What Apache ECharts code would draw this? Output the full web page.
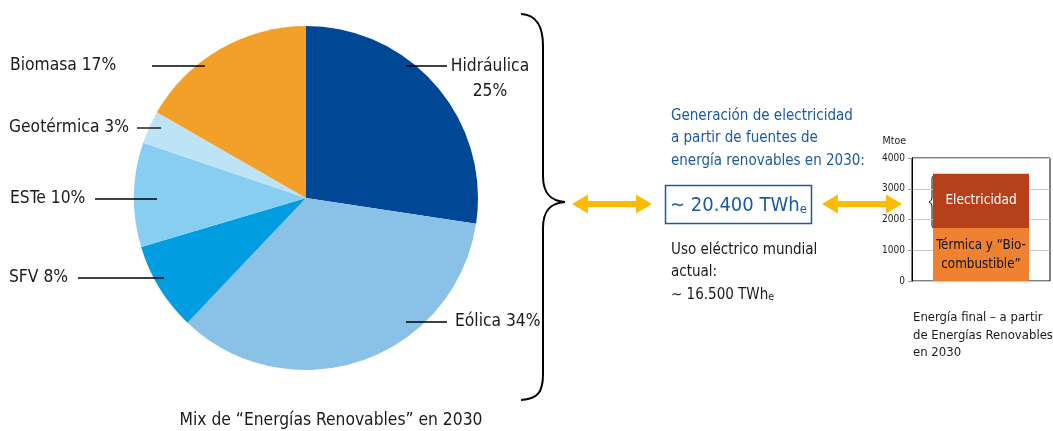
<!DOCTYPE html>
<html><head><meta charset="utf-8">
<script src="https://cdn.jsdelivr.net/npm/echarts@6/dist/echarts.min.js"></script>
<style>html,body{margin:0;padding:0;background:#fff}#c{width:1053px;height:431px}</style>
</head><body><div id="c"></div>
<script>
const FONT = "'Liberation Sans Narrow','Arial Narrow','DejaVu Sans Condensed',sans-serif";

// ---- Pie: renewable mix 2030 ----
const pieCategories = ['Hidráulica', 'Eólica', 'SFV', 'ESTe', 'Geotérmica', 'Biomasa'];
const pieShares = [27.4, 34.7, 8.3, 9.8, 3.1, 16.7];      // slice sizes as drawn
const pieLabelPercents = [25, 34, 8, 10, 3, 17];          // printed label values
const pieColors = ['#004896', '#89c2e6', '#009ee0', '#88cef0', '#bde3f7', '#f3a02b'];

// ---- Bar: final energy from renewables 2030 (Mtoe) ----
const barCategories = ['Energía final'];
const termicaValues = [1720];
const electricidadValues = [1770];
const yMin = 0, yMax = 4000, yStep = 1000;

const BLUE = '#1d5aa5';
const YEL = '#fbbb00';
const INK = '#1a1a1a';

const labelSpots = [
  {x: 490, y: 79, align: 'center', line: [[406, 66], [447, 66]]},
  {x: 455, y: 322, align: 'left', line: [[406, 322], [447, 322]]},
  {x: 9, y: 278, align: 'left', line: [[164, 278], [78, 278]]},
  {x: 10, y: 199, align: 'left', line: [[157, 199], [95, 199]]},
  {x: 9, y: 128, align: 'left', line: [[161, 128], [137, 128]]},
  {x: 10, y: 66, align: 'left', line: [[205, 66], [152, 66]]}
];

function dblArrow(x1, x2, y) {
  const h = 16, hh = 9.5, s = 3;
  return {type: 'polygon', shape: {points: [
    [x1, y], [x1 + h, y - hh], [x1 + h, y - s], [x2 - h, y - s], [x2 - h, y - hh], [x2, y],
    [x2 - h, y + hh], [x2 - h, y + s], [x1 + h, y + s], [x1 + h, y + hh]]},
    style: {fill: YEL}};
}
function txt(x, y, text, size, color, extra) {
  return {type: 'text', x: x, y: y,
    style: Object.assign({text: text, fontSize: size, fontFamily: FONT, fill: color,
      textAlign: 'left', textVerticalAlign: 'middle'}, extra || {})};
}
function bez(a, b, c1, c2, w) {
  return {type: 'bezierCurve', shape: {x1: a[0], y1: a[1], x2: b[0], y2: b[1], cpx1: c1[0], cpy1: c1[1], cpx2: c2[0], cpy2: c2[1]},
    style: {fill: null, stroke: '#000', lineWidth: w}};
}
function seg(a, b, w) {
  return {type: 'line', shape: {x1: a[0], y1: a[1], x2: b[0], y2: b[1]}, style: {stroke: '#000', lineWidth: w}};
}

const pieBase = {type: 'pie', center: [306, 198], radius: 172, startAngle: 90, clockwise: true, silent: true};

const chart = echarts.init(document.getElementById('c'), null, {renderer: 'canvas'});
chart.setOption({
  animation: false,
  backgroundColor: '#fff',
  textStyle: {fontFamily: FONT},
  grid: {left: 912, top: 158, width: 138, height: 123, show: true, borderColor: '#000', borderWidth: 1, containLabel: false},
  xAxis: {type: 'category', data: barCategories, show: false},
  yAxis: {
    type: 'value', min: yMin, max: yMax, interval: yStep,
    name: 'Mtoe', nameLocation: 'end', nameGap: 11,
    nameTextStyle: {fontSize: 10.5, color: '#222', fontFamily: FONT, align: 'right', padding: [0, 6, 0, 0]},
    axisLine: {show: true, lineStyle: {color: '#000', width: 1}},
    axisTick: {show: true, length: 4, lineStyle: {color: '#999'}},
    axisLabel: {fontSize: 10, color: '#222', fontFamily: FONT, margin: 7, formatter: v => String(v)},
    splitLine: {show: true, lineStyle: {color: '#c8c8c8', width: 1}}
  },
  series: [
    Object.assign({}, pieBase, {
      z: 2,
      data: pieCategories.map((n, i) => ({name: n, value: pieShares[i], itemStyle: {color: pieColors[i]}})),
      itemStyle: {borderWidth: 0},
      label: {show: false}, labelLine: {show: false}
    }),
    Object.assign({}, pieBase, {
      z: 4,
      data: pieCategories.map((n, i) => ({name: n, value: pieShares[i]})),
      itemStyle: {color: 'transparent', borderWidth: 0},
      label: {
        show: true, position: 'outside', fontSize: 17.3, color: INK, fontFamily: FONT, lineHeight: 25,
        overflow: 'none',
        formatter: p => p.dataIndex === 0
          ? p.name + '\n' + pieLabelPercents[p.dataIndex] + '%'
          : p.name + ' ' + pieLabelPercents[p.dataIndex] + '%'
      },
      labelLine: {show: true, lineStyle: {color: '#000', width: 1.3}},
      labelLayout: p => {
        const s = labelSpots[p.dataIndex];
        return {x: s.x, y: s.y, align: s.align, verticalAlign: 'middle',
          labelLinePoints: [s.line[0], s.line[1], s.line[1]]};
      }
    }),
    {
      type: 'bar', stack: 'e', barWidth: 96, data: termicaValues,
      itemStyle: {color: '#ef8230'},
      label: {show: true, position: 'inside', formatter: 'Térmica y “Bio-\ncombustible”', fontSize: 13.3,
        lineHeight: 19, color: '#111', fontFamily: FONT}
    },
    {
      type: 'bar', stack: 'e', barWidth: 96, data: electricidadValues,
      itemStyle: {color: '#b5401a'},
      label: {show: true, position: 'inside', formatter: 'Electricidad', fontSize: 13.5, color: '#fff', fontFamily: FONT}
    }
  ],
  graphic: [
    // big brace
    bez([521, 14], [543, 46], [538, 15], [543, 28], 2),
    seg([543, 46], [543, 176], 2),
    bez([543, 176], [565, 202], [543, 194], [551, 201], 2),
    bez([565, 202], [543, 228], [551, 203], [543, 210], 2),
    seg([543, 228], [543, 374], 2),
    bez([543, 374], [521, 400], [543, 392], [538, 399], 2),
    // small brace on bar
    bez([935, 175], [932, 181], [932, 176], [932, 178], 1),
    seg([932, 181], [932, 197], 1),
    bez([932, 197], [929, 202], [932, 200], [931, 201], 1),
    bez([929, 202], [932, 207], [931, 203], [932, 204], 1),
    seg([932, 207], [932, 223], 1),
    bez([932, 223], [935, 229], [932, 226], [932, 228], 1),
    dblArrow(572, 652, 204),
    dblArrow(822, 902, 204),
    txt(671, 116, 'Generación de electricidad', 15, BLUE),
    txt(671, 138.5, 'a partir de fuentes de', 15, BLUE),
    txt(671, 161, 'energía renovables en 2030:', 15, BLUE),
    {type: 'rect', shape: {x: 665.5, y: 185.5, width: 146, height: 38}, style: {fill: null, stroke: BLUE, lineWidth: 1.5}},
    {type: 'text', x: 670, y: 204, style: {
      text: '{m|∼ 20.400 TWh}{s|e}', textVerticalAlign: 'middle', textAlign: 'left',
      rich: {m: {fontSize: 20, fontFamily: FONT, fill: BLUE, color: BLUE, verticalAlign: 'bottom', lineHeight: 24},
             s: {fontSize: 13, fontFamily: FONT, fill: BLUE, color: BLUE, verticalAlign: 'bottom', lineHeight: 8}}}},
    txt(671, 250, 'Uso eléctrico mundial', 15, INK),
    txt(671, 272, 'actual:', 15, INK),
    {type: 'text', x: 671, y: 293, style: {
      text: '{m|∼ 16.500 TWh}{s|e}', textVerticalAlign: 'middle', textAlign: 'left',
      rich: {m: {fontSize: 15, fontFamily: FONT, fill: INK, color: INK, verticalAlign: 'bottom', lineHeight: 19},
             s: {fontSize: 10.5, fontFamily: FONT, fill: INK, color: INK, verticalAlign: 'bottom', lineHeight: 6}}}},
    txt(913, 318, 'Energía final – a partir', 13, INK),
    txt(913, 335.5, 'de Energías Renovables', 13, INK),
    txt(913, 353, 'en 2030', 13, INK),
    txt(331, 421, 'Mix de “Energías Renovables” en 2030', 17.3, INK, {textAlign: 'center'})
  ]
});
</script>
</body></html>
